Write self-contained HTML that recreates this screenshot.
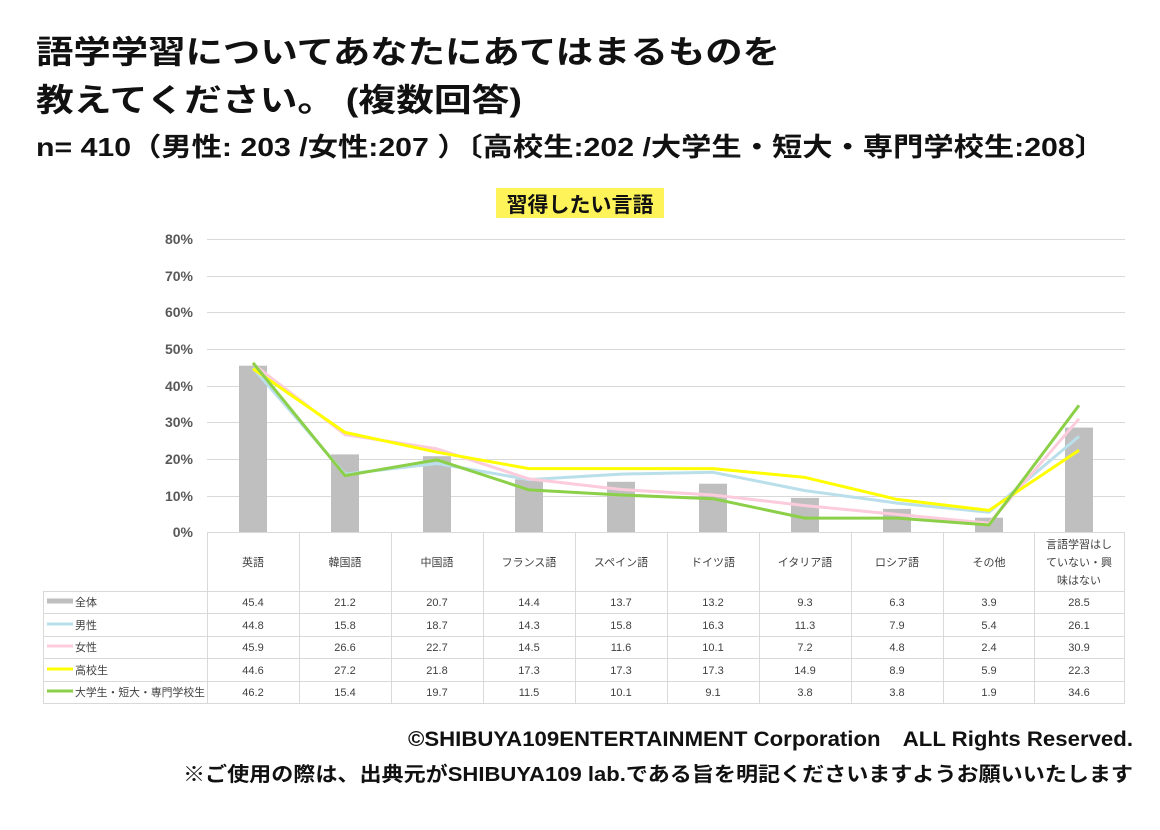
<!DOCTYPE html>
<html><head><meta charset="utf-8"><style>
body{margin:0;background:#fff;width:1160px;height:830px;overflow:hidden;font-family:"Liberation Sans","Noto Sans CJK JP",sans-serif;}
</style></head><body>
<svg width="1160" height="830" style="position:absolute;left:0;top:0" font-family="Liberation Sans, Noto Sans CJK JP, sans-serif">
<g font-weight="bold" fill="#111">
<text x="36" y="63" font-size="32" textLength="744" lengthAdjust="spacingAndGlyphs">語学学習についてあなたにあてはまるものを</text>
<text x="36" y="111" font-size="32" textLength="486" lengthAdjust="spacingAndGlyphs">教えてください。 (複数回答)</text>
<text x="36" y="156" font-size="26" textLength="1069" lengthAdjust="spacingAndGlyphs">n= 410（男性: 203 /女性:207 ）〔高校生:202 /大学生・短大・専門学校生:208〕</text>
</g>
<rect x="496" y="188" width="168" height="30" fill="#fff35a"/>
<text x="580" y="212" font-size="21" font-weight="bold" text-anchor="middle" fill="#111">習得したい言語</text>
<g stroke="#d9d9d9" stroke-width="1">
<line x1="207" y1="239.5" x2="1125" y2="239.5"/><line x1="207" y1="276.5" x2="1125" y2="276.5"/>
<line x1="207" y1="312.5" x2="1125" y2="312.5"/><line x1="207" y1="349.5" x2="1125" y2="349.5"/>
<line x1="207" y1="386.5" x2="1125" y2="386.5"/><line x1="207" y1="422.5" x2="1125" y2="422.5"/>
<line x1="207" y1="459.5" x2="1125" y2="459.5"/><line x1="207" y1="496.5" x2="1125" y2="496.5"/>
</g>
<g font-size="14" font-weight="bold" fill="#595959" text-anchor="end">
<text x="193" y="244">80%</text><text x="193" y="281">70%</text><text x="193" y="317">60%</text>
<text x="193" y="354">50%</text><text x="193" y="391">40%</text><text x="193" y="427">30%</text>
<text x="193" y="464">20%</text><text x="193" y="501">10%</text><text x="193" y="537">0%</text>
</g>
<g fill="#bfbfbf">
<rect x="239" y="365.7" width="28" height="166.3"/><rect x="331" y="454.4" width="28" height="77.6"/>
<rect x="423" y="456.2" width="28" height="75.8"/><rect x="515" y="479.3" width="28" height="52.7"/>
<rect x="607" y="481.8" width="28" height="50.2"/><rect x="699" y="483.7" width="28" height="48.3"/>
<rect x="791" y="497.9" width="28" height="34.1"/><rect x="883" y="508.9" width="28" height="23.1"/>
<rect x="975" y="517.7" width="28" height="14.3"/><rect x="1065" y="427.6" width="28" height="104.4"/>
</g>
<g fill="none" stroke-width="3" stroke-linejoin="round">
<polyline stroke="#b9dfea" points="253,367.9 345,474.1 437,463.5 529,479.6 621,474.1 713,472.3 805,490.6 897,503.1 989,512.2 1079,436.4"/>
<polyline stroke="#fccbdc" points="253,363.9 345,434.6 437,448.9 529,478.9 621,489.5 713,495 805,505.6 897,514.4 989,523.2 1079,418.8"/>
<polyline stroke="#ffff00" points="253,368.7 345,432.4 437,452.2 529,468.6 621,468.6 713,468.6 805,477.4 897,499.4 989,510.4 1079,450.3"/>
<polyline stroke="#8cd04a" points="253,362.8 345,475.6 437,459.8 529,489.9 621,495 713,498.7 805,518.1 897,518.1 989,525 1079,405.3"/>
</g>
<g stroke="#d9d9d9" stroke-width="1">
<line x1="207" y1="532.5" x2="1125" y2="532.5"/>
<line x1="43" y1="591.5" x2="1125" y2="591.5"/><line x1="43" y1="613.5" x2="1125" y2="613.5"/>
<line x1="43" y1="636.5" x2="1125" y2="636.5"/><line x1="43" y1="658.5" x2="1125" y2="658.5"/>
<line x1="43" y1="681.5" x2="1125" y2="681.5"/><line x1="43" y1="703.5" x2="1125" y2="703.5"/>
<line x1="43.5" y1="591" x2="43.5" y2="704"/>
<line x1="207.5" y1="532" x2="207.5" y2="704"/><line x1="299.5" y1="532" x2="299.5" y2="704"/>
<line x1="391.5" y1="532" x2="391.5" y2="704"/><line x1="483.5" y1="532" x2="483.5" y2="704"/>
<line x1="575.5" y1="532" x2="575.5" y2="704"/><line x1="667.5" y1="532" x2="667.5" y2="704"/>
<line x1="759.5" y1="532" x2="759.5" y2="704"/><line x1="851.5" y1="532" x2="851.5" y2="704"/>
<line x1="943.5" y1="532" x2="943.5" y2="704"/><line x1="1034.5" y1="532" x2="1034.5" y2="704"/>
<line x1="1124.5" y1="532" x2="1124.5" y2="704"/>
</g>
<g font-size="11" fill="#404040" text-anchor="middle">
<text x="253" y="566">英語</text><text x="345" y="566">韓国語</text><text x="437" y="566">中国語</text>
<text x="529" y="566">フランス語</text><text x="621" y="566">スペイン語</text><text x="713" y="566">ドイツ語</text>
<text x="805" y="566">イタリア語</text><text x="897" y="566">ロシア語</text><text x="989" y="566">その他</text>
<text x="1079" y="548">言語学習はし</text><text x="1079" y="566">ていない・興</text><text x="1079" y="584">味はない</text>
</g>
<g stroke-width="3">
<line x1="47" y1="601" x2="73" y2="601" stroke="#bfbfbf" stroke-width="5"/>
<line x1="47" y1="624" x2="73" y2="624" stroke="#b9dfea"/>
<line x1="47" y1="646" x2="73" y2="646" stroke="#fccbdc"/>
<line x1="47" y1="669" x2="73" y2="669" stroke="#ffff00"/>
<line x1="47" y1="691" x2="73" y2="691" stroke="#8cd04a"/>
</g>
<g font-size="11" fill="#404040">
<text x="75" y="606">全体</text><text x="75" y="629">男性</text><text x="75" y="651">女性</text>
<text x="75" y="674">高校生</text><text x="75" y="696" textLength="130" lengthAdjust="spacingAndGlyphs">大学生・短大・専門学校生</text>
</g>
<g font-size="11" fill="#404040" text-anchor="middle">
<text y="606"><tspan x="253">45.4</tspan><tspan x="345">21.2</tspan><tspan x="437">20.7</tspan><tspan x="529">14.4</tspan><tspan x="621">13.7</tspan><tspan x="713">13.2</tspan><tspan x="805">9.3</tspan><tspan x="897">6.3</tspan><tspan x="989">3.9</tspan><tspan x="1079">28.5</tspan></text>
<text y="629"><tspan x="253">44.8</tspan><tspan x="345">15.8</tspan><tspan x="437">18.7</tspan><tspan x="529">14.3</tspan><tspan x="621">15.8</tspan><tspan x="713">16.3</tspan><tspan x="805">11.3</tspan><tspan x="897">7.9</tspan><tspan x="989">5.4</tspan><tspan x="1079">26.1</tspan></text>
<text y="651"><tspan x="253">45.9</tspan><tspan x="345">26.6</tspan><tspan x="437">22.7</tspan><tspan x="529">14.5</tspan><tspan x="621">11.6</tspan><tspan x="713">10.1</tspan><tspan x="805">7.2</tspan><tspan x="897">4.8</tspan><tspan x="989">2.4</tspan><tspan x="1079">30.9</tspan></text>
<text y="674"><tspan x="253">44.6</tspan><tspan x="345">27.2</tspan><tspan x="437">21.8</tspan><tspan x="529">17.3</tspan><tspan x="621">17.3</tspan><tspan x="713">17.3</tspan><tspan x="805">14.9</tspan><tspan x="897">8.9</tspan><tspan x="989">5.9</tspan><tspan x="1079">22.3</tspan></text>
<text y="696"><tspan x="253">46.2</tspan><tspan x="345">15.4</tspan><tspan x="437">19.7</tspan><tspan x="529">11.5</tspan><tspan x="621">10.1</tspan><tspan x="713">9.1</tspan><tspan x="805">3.8</tspan><tspan x="897">3.8</tspan><tspan x="989">1.9</tspan><tspan x="1079">34.6</tspan></text>
</g>
<g font-weight="bold" fill="#111">
<text x="408" y="746" font-size="21" textLength="725" lengthAdjust="spacingAndGlyphs">©SHIBUYA109ENTERTAINMENT Corporation　ALL Rights Reserved.</text>
<text x="183" y="781" font-size="20" textLength="950" lengthAdjust="spacingAndGlyphs">※ご使用の際は、出典元がSHIBUYA109 lab.である旨を明記くださいますようお願いいたします</text>
</g>
</svg>
</body></html>
